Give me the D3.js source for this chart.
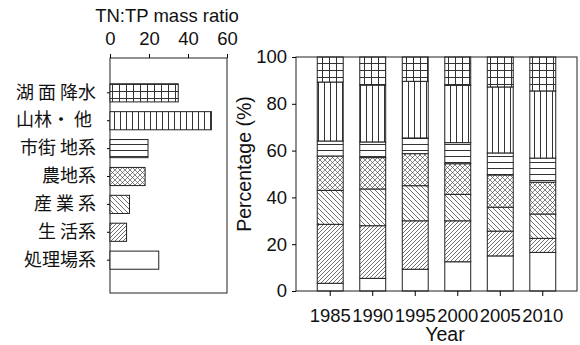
<!DOCTYPE html>
<html>
<head>
<meta charset="utf-8">
<script src="https://cdn.jsdelivr.net/npm/d3@7"></script>
<style>
  body { margin: 0; background: #fff; }
  svg text { font-family: "Liberation Sans", Arial, sans-serif; fill: #111; }
  .jp { font-family: "Noto Sans CJK JP", sans-serif; white-space: pre; }
</style>
</head>
<body>
<svg id="chart" width="580" height="345"></svg>
<script>
// left panel: TN:TP mass ratio by source (top to bottom)
var ratioLabels = ["湖 面 降水", "山林・ 他 ", "市街 地系", "農地系", "産 業 系", "生 活系", "処理場系"];
var ratioValues = [35, 52, 19.5, 18, 10, 8.5, 25];
var ratioPatterns = ["grid", "vert", "horiz", "cross", "back", "fwd", "none"];
var ratioTicks = [0, 20, 40, 60];

// right panel: share of load (%) per year, bottom to top
var years = ["1985", "1990", "1995", "2000", "2005", "2010"];
var shTreat    = [3.3, 5.4, 9.3, 12.5, 15.0, 16.5];
var shDomestic = [25.2, 22.5, 20.7, 17.5, 10.6, 6.0];
var shIndustry = [14.5, 15.7, 15.0, 11.3, 10.2, 10.4];
var shFarm     = [14.7, 13.4, 13.7, 13.1, 13.8, 13.6];
var shUrban    = [6.4, 6.7, 6.7, 9.0, 9.4, 10.3];
var shForest   = [25.2, 24.3, 24.2, 24.5, 28.2, 28.7];
var shRain     = [10.7, 12.0, 10.4, 12.1, 12.8, 14.5];
var layerKeys = ["treat", "domestic", "industry", "farm", "urban", "forest", "rain"];
var layerPatterns = ["none", "fwd", "back", "cross", "horiz", "vert", "grid"];
var pctTicks = [0, 20, 40, 60, 80, 100];

var svg = d3.select("#chart");

// hatch patterns
var defs = svg.append("defs");
var ink = "#333";
function pat(id, size, lines, sw) {
    var p = defs.append("pattern").attr("id", id)
        .attr("patternUnits", "userSpaceOnUse")
        .attr("width", size).attr("height", size);
    p.append("rect").attr("width", size).attr("height", size).attr("fill", "#fff");
    lines.forEach(function(l) {
        p.append("line").attr("x1", l[0]).attr("y1", l[1]).attr("x2", l[2]).attr("y2", l[3])
            .attr("stroke", ink).attr("stroke-width", sw);
    });
}
pat("grid", 7, [[0, 0.5, 7, 0.5], [0.5, 0, 0.5, 7]], 1);
pat("vert", 6, [[0.5, 0, 0.5, 6]], 1);
pat("horiz", 6, [[0, 0.5, 6, 0.5]], 1);
pat("cross", 5, [[0, 0, 5, 5], [0, 5, 5, 0]], 0.6);
pat("back", 5, [[-1, -1, 6, 6], [-1, 4, 1, 6], [4, -1, 6, 1]], 0.7);
pat("fwd", 4, [[0, 4, 4, 0], [-1, 1, 1, -1], [3, 5, 5, 3]], 0.7);
function fillOf(p) { return p == "none" ? "#fff" : "url(#" + p + ")"; }

// ---------- left panel ----------
var lx = d3.scaleLinear().domain([0, 60]).range([110, 227]);
var ly = d3.scaleBand().domain(ratioLabels).range([74, 279]).padding(0.35);

svg.append("rect").attr("x", 110).attr("y", 58).attr("width", 117).attr("height", 235)
    .attr("fill", "none").attr("stroke", "#222");

svg.append("g").attr("transform", "translate(0,58)")
    .call(d3.axisTop(lx).tickValues(ratioTicks).tickSize(4).tickPadding(9))
    .call(function(g) {
        g.select(".domain").remove();
        g.selectAll("text").attr("font-size", "18.5px").attr("font-family", "Liberation Sans, Arial, sans-serif");
    });

svg.append("text").attr("x", 167).attr("y", 22).attr("text-anchor", "middle")
    .attr("font-size", "18.5px").text("TN:TP mass ratio");

svg.append("g").attr("transform", "translate(110,0)")
    .call(d3.axisLeft(ly).tickSize(3).tickPadding(11))
    .call(function(g) {
        g.select(".domain").remove();
        g.selectAll("text").attr("class", "jp").attr("font-size", "18px")
            .attr("font-family", "Noto Sans CJK JP, sans-serif");
    });

svg.append("g").selectAll("rect")
    .data(ratioLabels)
    .join("rect")
    .attr("x", lx(0))
    .attr("y", function(d) { return ly(d); })
    .attr("width", function(d, i) { return lx(ratioValues[i]) - lx(0); })
    .attr("height", ly.bandwidth())
    .attr("fill", function(d, i) { return fillOf(ratioPatterns[i]); })
    .attr("stroke", "#222");

// ---------- right panel ----------
var rows = years.map(function(y, i) {
    return { year: y, treat: shTreat[i], domestic: shDomestic[i], industry: shIndustry[i],
             farm: shFarm[i], urban: shUrban[i], forest: shForest[i], rain: shRain[i] };
});
var series = d3.stack().keys(layerKeys)(rows);

var rx = d3.scaleBand().domain(years).range([296, 577]).paddingInner(0.39).paddingOuter(0.5);
var ry = d3.scaleLinear().domain([0, 100]).range([291, 57]);

svg.append("g").selectAll("g")
    .data(series)
    .join("g")
    .attr("fill", function(s, i) { return fillOf(layerPatterns[i]); })
    .selectAll("rect")
    .data(function(s) { return s; })
    .join("rect")
    .attr("x", function(d) { return rx(d.data.year); })
    .attr("y", function(d) { return ry(d[1]); })
    .attr("width", rx.bandwidth())
    .attr("height", function(d) { return ry(d[0]) - ry(d[1]); })
    .attr("stroke", "#222");

svg.append("rect").attr("x", 296).attr("y", 57).attr("width", 281).attr("height", 234)
    .attr("fill", "none").attr("stroke", "#222");

svg.append("g").attr("transform", "translate(296,0)")
    .call(d3.axisLeft(ry).tickValues(pctTicks).tickSize(4).tickPadding(5))
    .call(function(g) {
        g.select(".domain").remove();
        g.selectAll("text").attr("font-size", "18.5px").attr("font-family", "Liberation Sans, Arial, sans-serif");
    });

svg.append("g").attr("transform", "translate(0,291)")
    .call(d3.axisBottom(rx).tickSize(5).tickPadding(13))
    .call(function(g) {
        g.select(".domain").remove();
        g.selectAll("text").attr("font-size", "18.5px").attr("font-family", "Liberation Sans, Arial, sans-serif");
    });

svg.append("text").attr("transform", "translate(251,164) rotate(-90)")
    .attr("text-anchor", "middle").attr("font-size", "19.5px").text("Percentage (%)");

svg.append("text").attr("x", 445).attr("y", 341).attr("text-anchor", "middle")
    .attr("font-size", "19.5px").text("Year");
</script>
</body>
</html>
